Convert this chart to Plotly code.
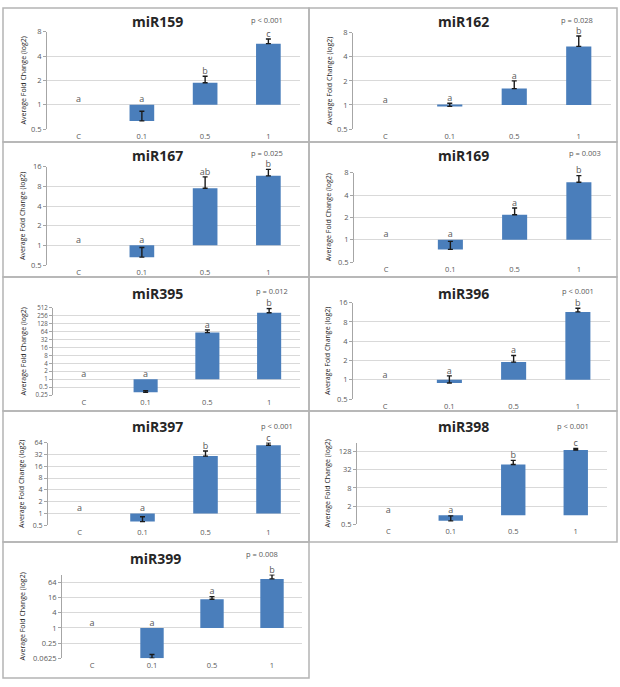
import numpy as np
import plotly.graph_objects as go

W, H = 620, 687
categories = ["C", "0.1", "0.5", "1"]

# ---- data (fold change, upper error, letters, p) ----
mir159_vals = [1, 0.63, 1.87, 5.7]
mir159_err = [None, 0.2, 0.38, 0.8]
mir159_letters = ["a", "a", "b", "c"]
mir159_ticks = [0.5, 1, 2, 4, 8]

mir162_vals = [1, 0.96, 1.6, 5.4]
mir162_err = [None, 0.09, 0.4, 1.9]
mir162_letters = ["a", "a", "a", "b"]
mir162_ticks = [0.5, 1, 2, 4, 8]

mir167_vals = [1, 0.66, 7.5, 11.6]
mir167_err = [None, 0.27, 3.7, 3.0]
mir167_letters = ["a", "a", "ab", "b"]
mir167_ticks = [0.5, 1, 2, 4, 8, 16]

mir169_vals = [1, 0.74, 2.17, 5.95]
mir169_err = [None, 0.21, 0.5, 1.35]
mir169_letters = ["a", "a", "a", "b"]
mir169_ticks = [0.5, 1, 2, 4, 8]

mir395_vals = [1, 0.32, 58, 326]
mir395_err = [None, 0.05, 15, 146]
mir395_letters = ["a", "a", "a", "b"]
mir395_ticks = [0.25, 0.5, 1, 2, 4, 8, 16, 32, 64, 128, 256, 512]

mir396_vals = [1, 0.89, 1.89, 11.5]
mir396_err = [None, 0.26, 0.5, 1.6]
mir396_letters = ["a", "a", "a", "b"]
mir396_ticks = [0.5, 1, 2, 4, 8, 16]

mir397_vals = [1, 0.62, 29, 55]
mir397_err = [None, 0.2, 10, 8]
mir397_letters = ["a", "a", "b", "c"]
mir397_ticks = [0.5, 1, 2, 4, 8, 16, 32, 64]

mir398_vals = [1, 0.65, 48, 145]
mir398_err = [None, 0.3, 18, 19]
mir398_letters = ["a", "a", "b", "c"]
mir398_ticks = [0.5, 2, 8, 32, 128]

mir399_vals = [1, 0.063, 13.5, 87]
mir399_err = [None, 0.025, 3.7, 38]
mir399_letters = ["a", "a", "a", "b"]
mir399_ticks = [0.0625, 0.25, 1, 4, 16, 64]

names = ["miR159", "miR162", "miR167", "miR169", "miR395", "miR396", "miR397", "miR398", "miR399"]
p_labels = ["p < 0.001", "p = 0.028", "p = 0.025", "p = 0.003", "p = 0.012",
            "p < 0.001", "p < 0.001", "p < 0.001", "p = 0.008"]
all_vals = [mir159_vals, mir162_vals, mir167_vals, mir169_vals, mir395_vals,
            mir396_vals, mir397_vals, mir398_vals, mir399_vals]
all_err = [mir159_err, mir162_err, mir167_err, mir169_err, mir395_err,
           mir396_err, mir397_err, mir398_err, mir399_err]
all_letters = [mir159_letters, mir162_letters, mir167_letters, mir169_letters, mir395_letters,
               mir396_letters, mir397_letters, mir398_letters, mir399_letters]
all_ticks = [mir159_ticks, mir162_ticks, mir167_ticks, mir169_ticks, mir395_ticks,
             mir396_ticks, mir397_ticks, mir398_ticks, mir399_ticks]
axis_tops = [8, 8, 16, 8, 512, 16, 64, 256, 128]

# ---- layout geometry (pixels) ----
plot_boxes = [(47, 300, 27, 126), (353, 611, 28, 126), (47, 300, 164, 264), (354, 611, 170, 261),
              (53, 300, 307, 396), (353, 610, 302, 400), (48, 300, 444, 528), (357, 607, 444, 527),
              (62, 302, 578, 663)]
frames = [(3, 309, 3, 139), (309, 617, 3, 139), (3, 309, 139, 276), (309, 617, 139, 276),
          (3, 309, 276, 412), (309, 617, 276, 412), (3, 309, 412, 545), (309, 617, 412, 545),
          (3, 309, 545, 683)]
title_pos = [(157, 17), (463, 17), (157, 153), (463, 153), (157, 293), (463, 293),
             (157, 428), (463, 428), (155, 562)]
p_pos = [(267, 15), (577, 15), (267, 150), (585, 150), (272, 290), (578, 290),
         (277, 427), (573, 427), (262, 557)]
ytitle_x = [23, 330, 23, 328, 23, 328, 22, 327, 22]
tick_sizes = [7.5, 7.5, 7.5, 7.5, 6.2, 7.5, 7, 7.5, 7.5]

BAR = "#4A7EBB"
GRID = "#d9d9d9"
AXL = "#a6a6a6"
TXT = "#595959"
FONT = "Open Sans"


def fmt(v):
    return ("%g" % v)


fig = go.Figure()
annotations = []
shapes = []
for i in range(9):
    n = i + 1
    xa, ya = ("x" if n == 1 else "x%d" % n), ("y" if n == 1 else "y%d" % n)
    x0, x1, y0, y1 = plot_boxes[i]
    vals, err = all_vals[i], all_err[i]
    idx = [j for j, e in enumerate(err) if e is not None]  # control has no bar/error
    fig.add_trace(go.Bar(
        x=[categories[j] for j in idx], y=[vals[j] - 1 for j in idx], base=[1] * len(idx),
        width=0.39, marker=dict(color=BAR, line=dict(width=0)),
        error_y=dict(type="data", symmetric=False, array=[err[j] for j in idx],
                     arrayminus=[0] * len(idx),
                     color="#1a1a1a", thickness=1.4, width=2.5),
        xaxis=xa, yaxis=ya, hoverinfo="skip"))
    tops = [max(1, v + (e or 0)) for v, e in zip(vals, err)]
    fig.add_trace(go.Scatter(
        x=categories, y=tops, mode="text", text=all_letters[i], textposition="top center",
        textfont=dict(size=9, color=TXT, family=FONT), cliponaxis=False,
        xaxis=xa, yaxis=ya, hoverinfo="skip"))
    ticks = all_ticks[i]
    lo, hi = np.log10(ticks[0]), np.log10(axis_tops[i])
    fig.layout["xaxis%d" % n if n > 1 else "xaxis"] = dict(
        domain=[x0 / W, x1 / W], anchor=ya, range=[-0.5, 3.5], showgrid=False,
        categoryorder="array", categoryarray=categories,
        showline=False, ticks="", tickfont=dict(size=7.5, color=TXT, family=FONT),
        ticklabelstandoff=1, fixedrange=True)
    fig.layout["yaxis%d" % n if n > 1 else "yaxis"] = dict(
        domain=[1 - y1 / H, 1 - y0 / H], anchor=xa, type="log",
        range=[lo - 0.002, hi + 0.002], tickvals=ticks, ticktext=[fmt(t) for t in ticks],
        showgrid=True, gridcolor=GRID, gridwidth=1, showline=True, linecolor=AXL,
        ticks="outside", ticklen=3, tickcolor=AXL,
        tickfont=dict(size=tick_sizes[i], color=TXT, family=FONT), zeroline=False,
        fixedrange=True)
    fx0, fx1, fy0, fy1 = frames[i]
    shapes.append(dict(type="rect", xref="paper", yref="paper", x0=fx0 / W, x1=fx1 / W,
                       y0=1 - fy1 / H, y1=1 - fy0 / H, line=dict(color="#b4b4b4", width=1.5)))
    tx, ty = title_pos[i]
    annotations.append(dict(xref="paper", yref="paper", x=tx / W, y=1 - ty / H,
                            text="<b>%s</b>" % names[i], showarrow=False,
                            xanchor="center", yanchor="middle",
                            font=dict(size=14, color="#262626", family=FONT)))
    px, py = p_pos[i]
    annotations.append(dict(xref="paper", yref="paper", x=px / W, y=1 - py / H,
                            text=p_labels[i], showarrow=False, xanchor="center", yanchor="middle",
                            font=dict(size=7.5, color=TXT, family=FONT)))
    annotations.append(dict(xref="paper", yref="paper", x=ytitle_x[i] / W,
                            y=1 - (y0 + y1) / 2 / H, text="Average Fold Change (log2)",
                            textangle=-90, showarrow=False, xanchor="center", yanchor="middle",
                            font=dict(size=7, color="#1a1a1a", family=FONT)))

fig.update_layout(width=W, height=H, margin=dict(l=0, r=0, t=0, b=0),
                  paper_bgcolor="white", plot_bgcolor="white", showlegend=False,
                  barmode="overlay", annotations=annotations, shapes=shapes)
fig.write_html("out.html", config={"displayModeBar": False},
               post_script="document.body.style.margin='0';document.body.style.overflow='hidden';")
